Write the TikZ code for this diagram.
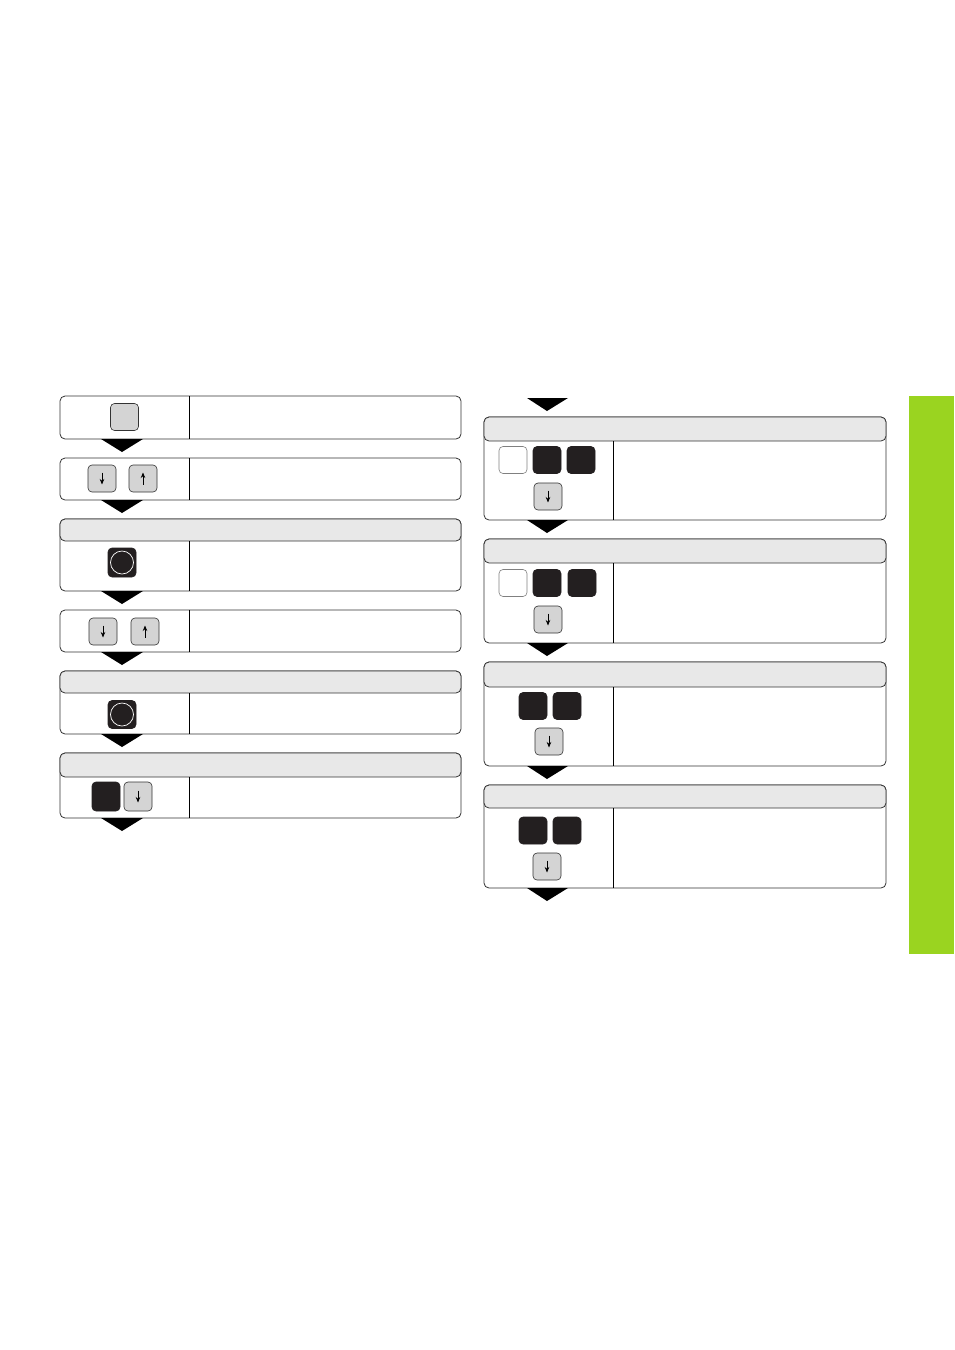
\documentclass[tikz,border=0pt]{standalone}
\usetikzlibrary{arrows.meta}

\definecolor{hdrgray}{HTML}{E8E8E8}
\definecolor{keygray}{HTML}{D4D4D4}
\definecolor{keyblack}{HTML}{231F20}
\definecolor{tabgreen}{HTML}{9AD420}
\definecolor{linegray}{HTML}{333333}

\tikzset{
  frame/.style={draw=linegray, line width=0.8pt, rounded corners=5pt},
  header/.style={frame, fill=hdrgray},
  divider/.style={draw=black, line width=0.8pt},
  key/.style={rectangle, rounded corners=4pt, minimum width=28pt,
    minimum height=27pt, inner sep=0pt, line width=0.6pt},
  keyg/.style={key, draw=linegray, fill=keygray},
  keyd/.style={key, draw=keyblack, fill=keyblack},
  keyw/.style={key, draw=gray, fill=white},
  keyarrow/.style={line width=0.8pt, -{Stealth[length=5.5pt,width=4.5pt]}}
}

\begin{document}
\begin{tikzpicture}[x=1pt,y=-1pt]
\useasboundingbox (0,0) rectangle (954,1350);

% Banda lateral
	\fill[tabgreen] (909,396) rectangle (954,954);

% Columna izquierda
	\foreach \t/\b in {396/439, 458/500, 610/652}{
		\draw[frame] (60,\t) rectangle (461,\b);
		\draw[divider] (189,\t) -- (189,\b);
	}

	\foreach \t/\h/\b in {519/541/591, 671/693/734, 753/777/818}{
		\draw[frame] (60,\t) rectangle (461,\b);
		\draw[header] (60,\t) rectangle (461,\h);
		\draw[divider] (189,\h) -- (189,\b);
	}

	\foreach \y in {439, 500, 591, 652, 734, 818}
		\fill (101,\y) -- (143,\y) -- (122,\y+13) -- cycle;

% Columna derecha
	\foreach \t/\h/\b in {417/441/520, 539/563/643, 662/687/766, 785/808/888}{
		\draw[frame] (484,\t) rectangle (886,\b);
		\draw[header] (484,\t) rectangle (886,\h);
		\draw[divider] (613,\h) -- (613,\b);
	}

	\foreach \y in {398, 520, 643, 766, 888}
		\fill (527,\y) -- (568,\y) -- (547,\y+13) -- cycle;

% Teclas izquierda
	\node[keyg] (kmod)  at (124.5,417) {};
	\node[keyg] (kdn1)  at (102,478.5) {};
	\node[keyg] (kup1)  at (143,478.5) {};
	\node[keyd, minimum height=29pt] (kent1) at (122,562.5) {};
	\node[keyg] (kdn2)  at (103,631.5) {};
	\node[keyg] (kup2)  at (145,631.5) {};
	\node[keyd, minimum height=28pt] (kent2) at (122,714.5) {};
	\node[keyd, minimum height=29pt] (kval1) at (106,796.5) {};
	\node[keyg, minimum height=29pt] (kdn3)  at (138,796.5) {};

	\foreach \k in {kent1, kent2}
		\draw[white, line width=0.7pt] (\k.center) circle (11.5pt);

% Teclas derecha
	\node[keyw] (kw1) at (513,460) {};
	\node[keyd] (kd1) at (547,460) {};
	\node[keyd] (kd2) at (581,460) {};
	\node[keyg] (kdn4) at (548,496.5) {};

	\node[keyw] (kw2) at (513,583) {};
	\node[keyd] (kd3) at (547,583) {};
	\node[keyd] (kd4) at (582,583) {};
	\node[keyg] (kdn5) at (548,619.5) {};

	\node[keyd] (kd5) at (533,706) {};
	\node[keyd] (kd6) at (567,706) {};
	\node[keyg] (kdn6) at (549,741.5) {};

	\node[keyd] (kd7) at (533,830.5) {};
	\node[keyd] (kd8) at (567,830.5) {};
	\node[keyg] (kdn7) at (547,866.5) {};

% Flechas de las teclas
	\foreach \k in {kdn1, kdn2, kdn3, kdn4, kdn5, kdn6, kdn7}
		\draw[keyarrow] ([yshift=6pt]\k.center) -- ([yshift=-6pt]\k.center);

	\foreach \k in {kup1, kup2}
		\draw[keyarrow] ([yshift=-6pt]\k.center) -- ([yshift=6pt]\k.center);

\end{tikzpicture}
\end{document}
